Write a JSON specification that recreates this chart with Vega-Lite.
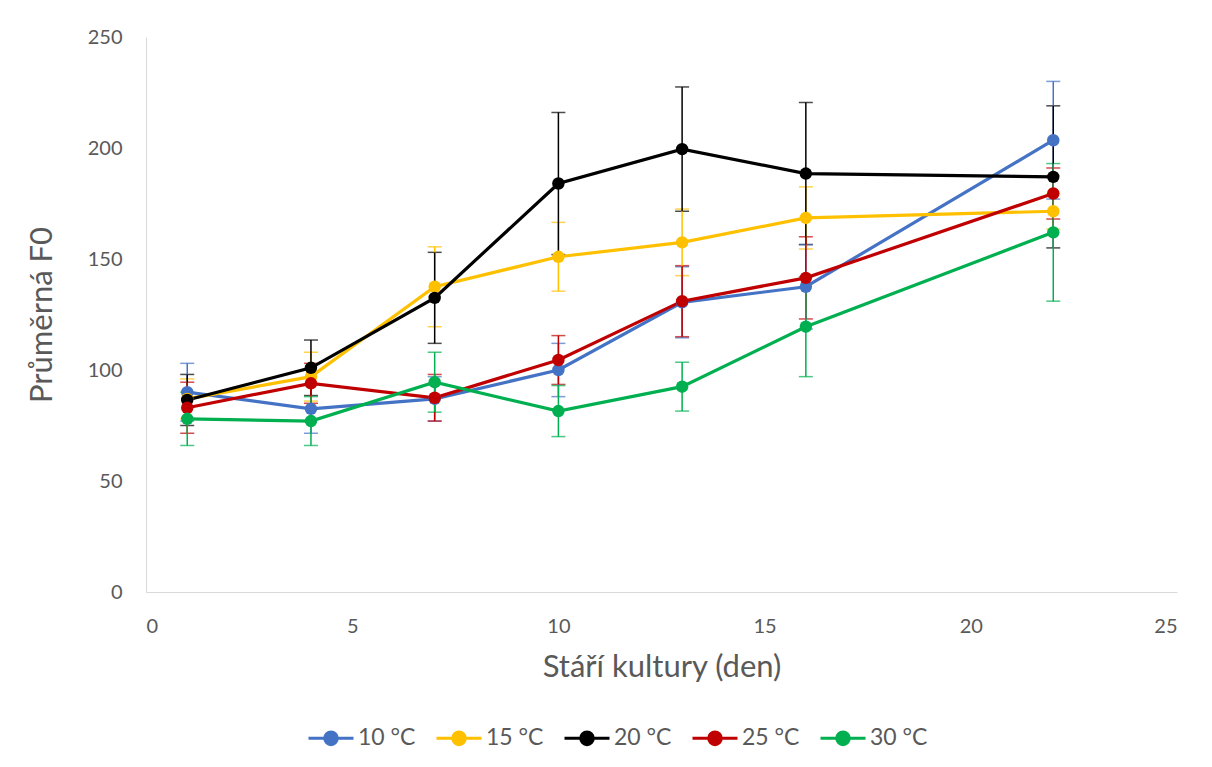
{
  "$schema": "https://vega.github.io/schema/vega-lite/v6.json",
  "width": 1031,
  "height": 555,
  "autosize": {"type": "none"},
  "padding": {"left": 146, "top": 37, "right": 35, "bottom": 175},
  "background": "white",
  "config": {
    "font": "Lato",
    "view": {"stroke": null},
    "axis": {"grid": false, "ticks": false, "domainColor": "#D9D9D9", "domainWidth": 1, "labelColor": "#595959", "titleColor": "#595959", "labelFontSize": 20, "titleFontSize": 31, "titleFontWeight": "normal", "labelFont": "Lato", "titleFont": "Lato"}
  },
  "data": {"values": [
    {"day": 1, "temp": "10 °C", "mean": 90, "err": 13},
    {"day": 4, "temp": "10 °C", "mean": 82.5, "err": 11},
    {"day": 7, "temp": "10 °C", "mean": 87, "err": 10},
    {"day": 10, "temp": "10 °C", "mean": 100, "err": 12},
    {"day": 13, "temp": "10 °C", "mean": 130.5, "err": 16},
    {"day": 16, "temp": "10 °C", "mean": 137.5, "err": 19},
    {"day": 22, "temp": "10 °C", "mean": 203.5, "err": 26.5},
    {"day": 1, "temp": "15 °C", "mean": 87, "err": 9},
    {"day": 4, "temp": "15 °C", "mean": 97, "err": 11},
    {"day": 7, "temp": "15 °C", "mean": 137.5, "err": 18},
    {"day": 10, "temp": "15 °C", "mean": 151, "err": 15.5},
    {"day": 13, "temp": "15 °C", "mean": 157.5, "err": 15},
    {"day": 16, "temp": "15 °C", "mean": 168.5, "err": 14},
    {"day": 22, "temp": "15 °C", "mean": 171.5, "err": 8},
    {"day": 1, "temp": "20 °C", "mean": 86.5, "err": 11.5},
    {"day": 4, "temp": "20 °C", "mean": 101, "err": 12.5},
    {"day": 7, "temp": "20 °C", "mean": 132.5, "err": 20.5},
    {"day": 10, "temp": "20 °C", "mean": 184, "err": 32},
    {"day": 13, "temp": "20 °C", "mean": 199.5, "err": 28},
    {"day": 16, "temp": "20 °C", "mean": 188.5, "err": 32},
    {"day": 22, "temp": "20 °C", "mean": 187, "err": 32},
    {"day": 1, "temp": "25 °C", "mean": 83, "err": 11.5},
    {"day": 4, "temp": "25 °C", "mean": 94, "err": 9},
    {"day": 7, "temp": "25 °C", "mean": 87.5, "err": 10.5},
    {"day": 10, "temp": "25 °C", "mean": 104.5, "err": 11},
    {"day": 13, "temp": "25 °C", "mean": 131, "err": 16},
    {"day": 16, "temp": "25 °C", "mean": 141.5, "err": 18.5},
    {"day": 22, "temp": "25 °C", "mean": 179.5, "err": 11.5},
    {"day": 1, "temp": "30 °C", "mean": 78, "err": 12},
    {"day": 4, "temp": "30 °C", "mean": 77, "err": 11},
    {"day": 7, "temp": "30 °C", "mean": 94.5, "err": 13.5},
    {"day": 10, "temp": "30 °C", "mean": 81.5, "err": 11.5},
    {"day": 13, "temp": "30 °C", "mean": 92.5, "err": 11},
    {"day": 16, "temp": "30 °C", "mean": 119.5, "err": 22.5},
    {"day": 22, "temp": "30 °C", "mean": 162, "err": 31}
  ]},
  "encoding": {
    "x": {"field": "day", "type": "quantitative", "scale": {"domain": [0, 25], "nice": false}, "axis": {"values": [0, 5, 10, 15, 20, 25], "title": "Stáří kultury (den)", "labelPadding": 24, "titlePadding": 16}},
    "y": {"field": "mean", "type": "quantitative", "scale": {"domain": [0, 250], "nice": false}, "axis": {"values": [0, 50, 100, 150, 200, 250], "title": "Průměrná F0", "labelPadding": 24, "titlePadding": 29}},
    "color": {"field": "temp", "type": "nominal", "scale": {"domain": ["10 °C", "15 °C", "20 °C", "25 °C", "30 °C"], "range": ["#4472C4", "#FFC000", "#000000", "#C00000", "#00B050"]},
      "legend": {"title": null, "orient": "none", "legendX": 161, "legendY": 677, "direction": "horizontal", "columns": 5, "symbolType": "M-1,0H1M0.28,0A0.28,0.28 0 1 1 -0.28,0A0.28,0.28 0 1 1 0.28,0Z", "symbolSize": 2025, "symbolStrokeWidth": 3, "symbolOpacity": 1, "labelFontSize": 23, "labelColor": "#595959", "labelFont": "Lato", "labelOffset": 3, "columnPadding": 14}}
  },
  "layer": [
    {
      "mark": {"type": "errorbar", "ticks": {"size": 14}, "thickness": 1.5},
      "encoding": {"yError": {"field": "err"}}
    },
    {
      "mark": {"type": "line", "strokeWidth": 3.2}
    },
    {
      "mark": {"type": "point", "filled": true, "size": 155, "opacity": 1}
    }
  ]
}
